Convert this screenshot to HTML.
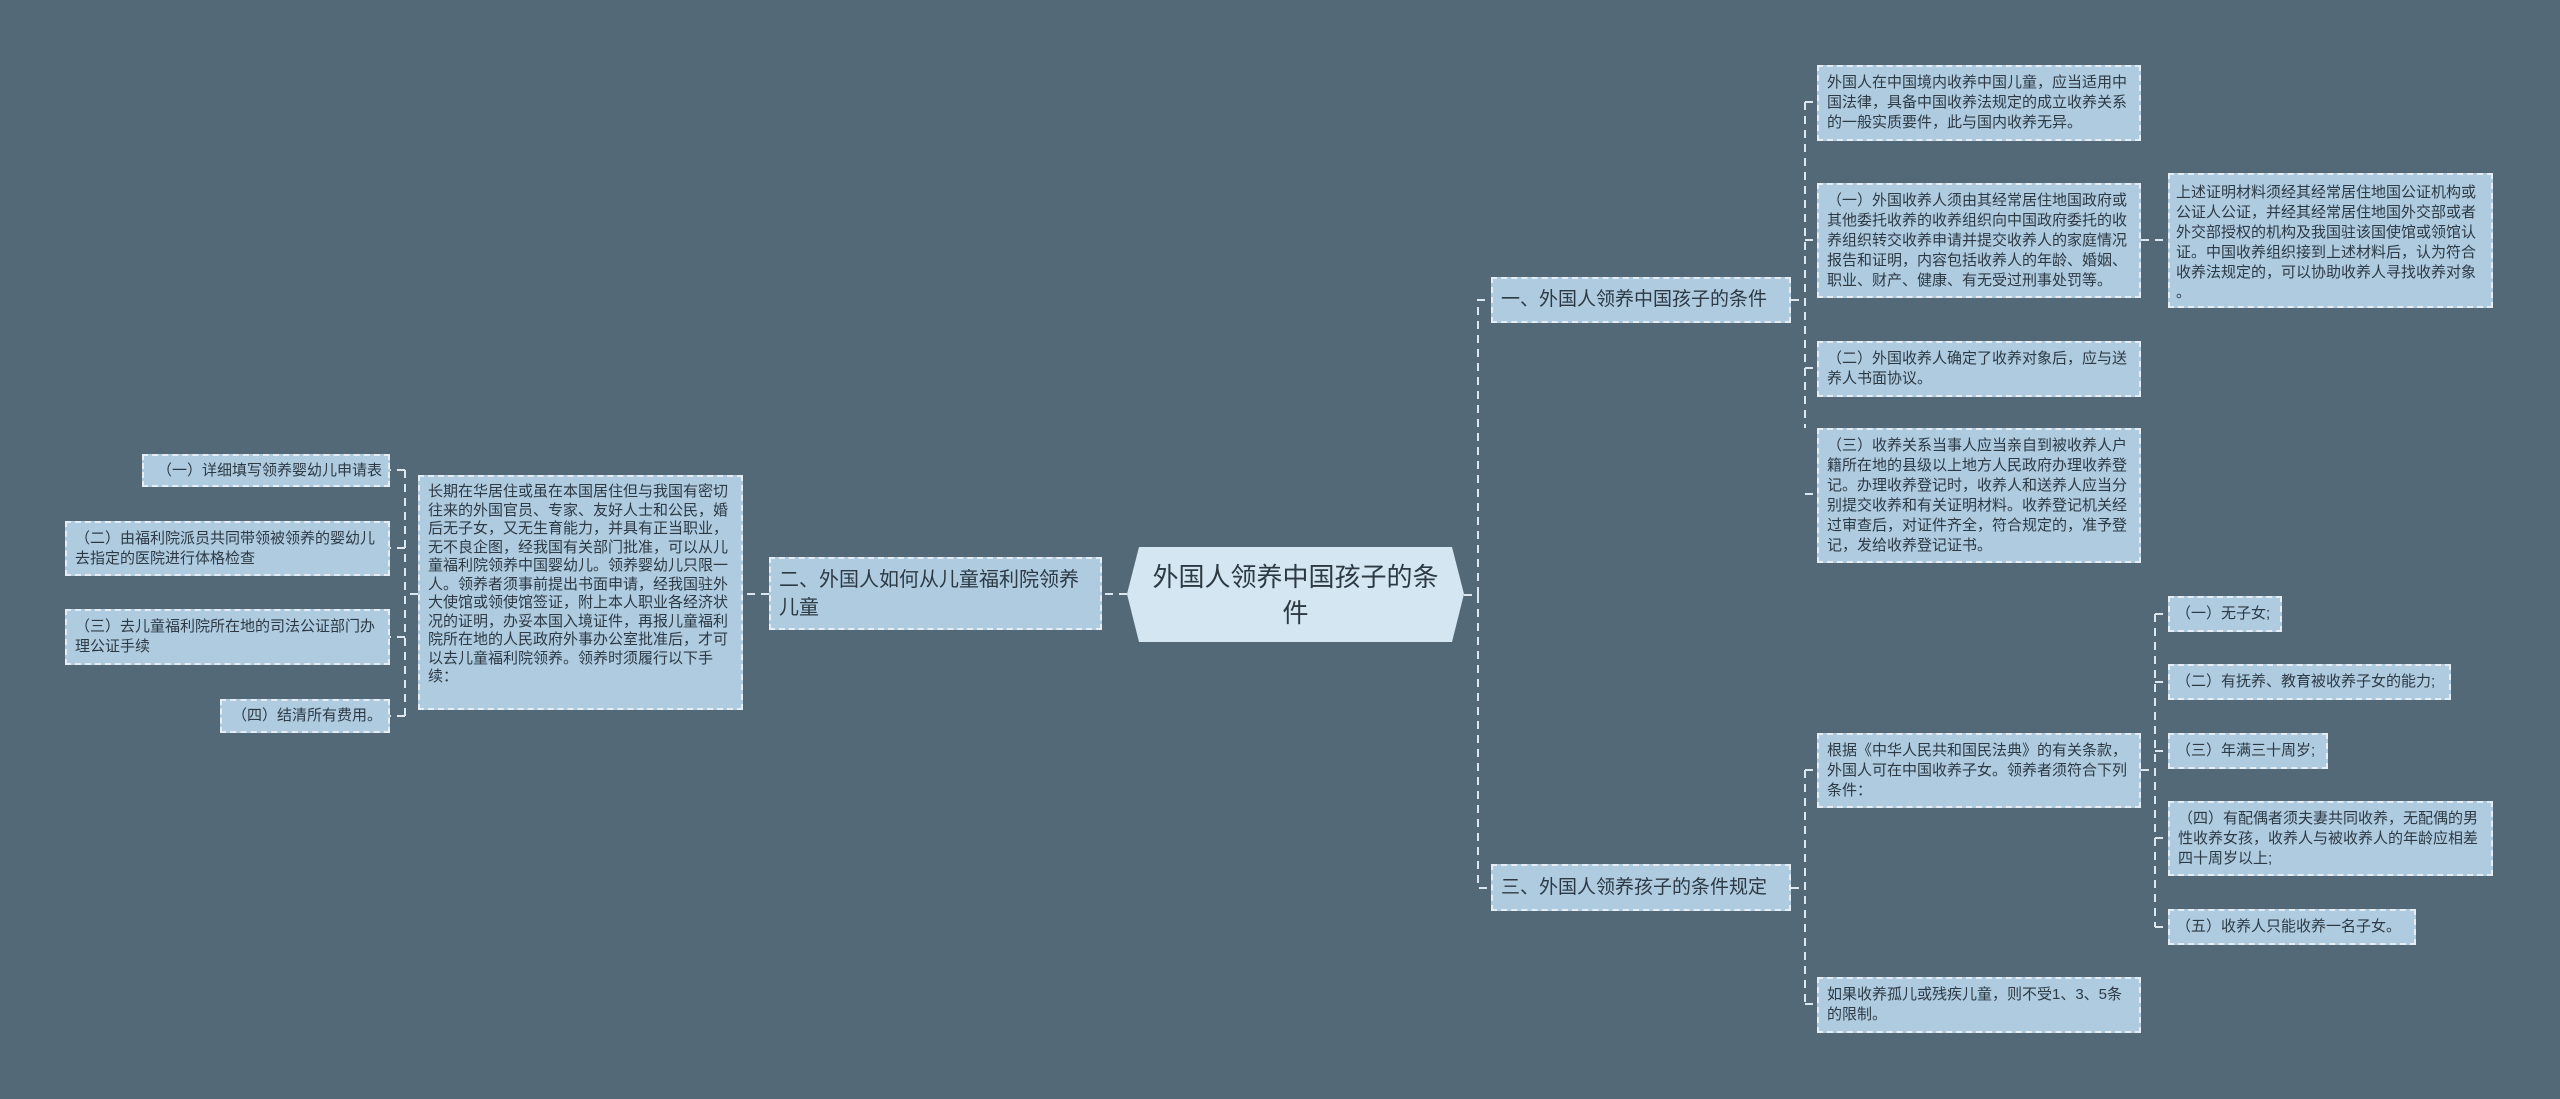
<!DOCTYPE html>
<html><head><meta charset="utf-8"><style>
body{margin:0;width:2560px;height:1099px;background:#536978;overflow:hidden;position:relative;font-family:"Liberation Sans","Noto Sans CJK SC",sans-serif;}
.n{position:absolute;box-sizing:border-box;background:#aecbe0;border:2px dashed #e6eef4;color:#2d3a44;font-size:15px;line-height:20px;padding:6px 8px;}
.b{font-size:19px;line-height:28px;padding:8px 8px;display:flex;align-items:center;white-space:nowrap}
.w{white-space:nowrap;padding-left:6px;padding-right:6px}
.r{text-align:right}
svg{position:absolute;left:0;top:0}
</style></head><body>
<svg width="2560" height="1099"><g fill="none" stroke="#dbe6ee" stroke-width="2" stroke-dasharray="8,6">
<path d="M1464 595H1478V300H1491M1478 595V888H1491"/>
<path d="M1791 300H1805M1805 102V428M1805 102H1817M1805 240H1817M1805 368H1817M1805 494H1817M2141 240H2168"/>
<path d="M1791 888H1805M1805 770V1004M1805 770H1817M1805 1004H1817"/>
<path d="M2141 770H2155M2155 614V927M2155 614H2168M2155 682H2168M2155 751H2168M2155 838H2168M2155 927H2168"/>
<path d="M1127 594H1102M769 594H743M418 594H405M405 470V716M405 470H390M405 548H390M405 637H390M405 716H390"/>
</g></svg>
<div style="position:absolute;left:1127px;top:547px;width:337px;height:95px;background:#d3e6f2;clip-path:polygon(12px 0,325px 0,337px 47px,325px 95px,12px 95px,0 47px);display:flex;align-items:center;justify-content:center;text-align:center;font-size:26px;line-height:36px;color:#2d3a44;padding:0 20px;box-sizing:border-box">外国人领养中国孩子的条件</div>
<div class="n b" style="left:1491px;top:277px;width:300px;height:46px">一、外国人领养中国孩子的条件</div>
<div class="n b" style="left:1491px;top:864px;width:300px;height:47px">三、外国人领养孩子的条件规定</div>
<div class="n b" style="left:769px;top:557px;width:333px;height:73px;white-space:normal;font-size:20px">二、外国人如何从儿童福利院领养<br>儿童</div>
<div class="n" style="left:1817px;top:65px;width:324px;height:76px">外国人在中国境内收养中国儿童，应当适用中国法律，具备中国收养法规定的成立收养关系的一般实质要件，此与国内收养无异。</div>
<div class="n" style="left:1817px;top:183px;width:324px;height:115px">（一）外国收养人须由其经常居住地国政府或其他委托收养的收养组织向中国政府委托的收养组织转交收养申请并提交收养人的家庭情况报告和证明，内容包括收养人的年龄、婚姻、职业、财产、健康、有无受过刑事处罚等。</div>
<div class="n" style="left:1817px;top:341px;width:324px;height:56px">（二）外国收养人确定了收养对象后，应与送养人书面协议。</div>
<div class="n" style="left:1817px;top:428px;width:324px;height:135px">（三）收养关系当事人应当亲自到被收养人户籍所在地的县级以上地方人民政府办理收养登记。办理收养登记时，收养人和送养人应当分别提交收养和有关证明材料。收养登记机关经过审查后，对证件齐全，符合规定的，准予登记，发给收养登记证书。</div>
<div class="n" style="left:1817px;top:733px;width:324px;height:75px">根据《中华人民共和国民法典》的有关条款， 外国人可在中国收养子女。领养者须符合下列条件：</div>
<div class="n" style="left:1817px;top:977px;width:324px;height:56px">如果收养孤儿或残疾儿童，则不受1、3、5条的限制。</div>
<div class="n" style="left:2168px;top:173px;width:325px;height:135px;padding:8px 6px">上述证明材料须经其经常居住地国公证机构或公证人公证，并经其经常居住地国外交部或者外交部授权的机构及我国驻该国使馆或领馆认证。中国收养组织接到上述材料后，认为符合收养法规定的，可以协助收养人寻找收养对象<br>。</div>
<div class="n w" style="left:2168px;top:596px;width:114px;height:36px">（一）无子女;</div>
<div class="n w" style="left:2168px;top:664px;width:283px;height:36px">（二）有抚养、教育被收养子女的能力;</div>
<div class="n w" style="left:2168px;top:733px;width:160px;height:36px">（三）年满三十周岁;</div>
<div class="n" style="left:2168px;top:801px;width:325px;height:75px">（四）有配偶者须夫妻共同收养，无配偶的男性收养女孩，收养人与被收养人的年龄应相差四十周岁以上;</div>
<div class="n w" style="left:2168px;top:909px;width:248px;height:36px">（五）收养人只能收养一名子女。</div>
<div class="n" style="left:418px;top:475px;width:325px;height:235px;font-size:15px;line-height:18.5px;padding:6px 8px">长期在华居住或虽在本国居住但与我国有密切往来的外国官员、专家、友好人士和公民，婚后无子女，又无生育能力，并具有正当职业，无不良企图，经我国有关部门批准，可以从儿童福利院领养中国婴幼儿。领养婴幼儿只限一人。领养者须事前提出书面申请，经我国驻外大使馆或领使馆签证，附上本人职业各经济状况的证明，办妥本国入境证件，再报儿童福利院所在地的人民政府外事办公室批准后，才可以去儿童福利院领养。领养时须履行以下手续：</div>
<div class="n r w" style="left:142px;top:454px;width:248px;height:33px;padding-top:5px">（一）详细填写领养婴幼儿申请表</div>
<div class="n" style="left:65px;top:521px;width:325px;height:55px">（二）由福利院派员共同带领被领养的婴幼儿去指定的医院进行体格检查</div>
<div class="n" style="left:65px;top:609px;width:325px;height:56px">（三）去儿童福利院所在地的司法公证部门办理公证手续</div>
<div class="n r w" style="left:220px;top:699px;width:170px;height:34px;padding-top:5px">（四）结清所有费用。</div>
</body></html>
